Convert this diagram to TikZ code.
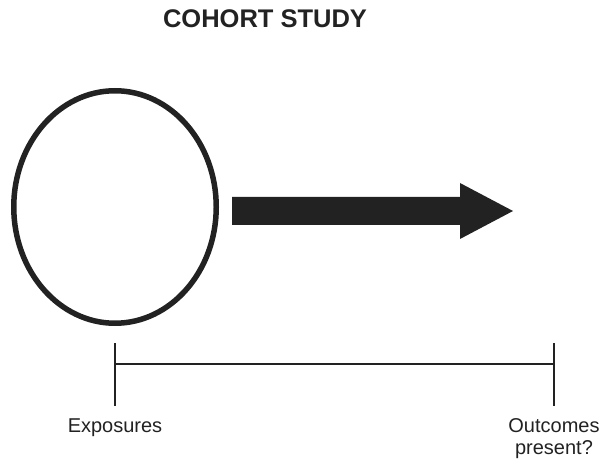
\documentclass[tikz,border=0pt]{standalone}
\usepackage{fontspec}
\setmainfont{Liberation Sans}
\usetikzlibrary{shapes.geometric}
\definecolor{ink}{RGB}{34,34,34}
\begin{document}
\begin{tikzpicture}[x=1pt,y=-1pt,
  every node/.style={inner sep=0pt,outer sep=0pt,text=ink},
  titletext/.style={font=\fontsize{25.5}{30}\selectfont\bfseries},
  ringshape/.style={ellipse,draw=ink,line width=5.5pt,minimum width=202.5pt,minimum height=232.5pt},
  blockarrow/.style={fill=ink},
  axisline/.style={draw=ink,line width=1.5pt},
  ticklabel/.style={font=\fontsize{20}{22.5}\selectfont,align=center,anchor=north}]
  \useasboundingbox (0,0) rectangle (607,462);

  % title
  \node[titletext,anchor=base] (title) at (265,27.5) {COHORT STUDY};

  % study population
  \node[ringshape] (cohort) at (115,207) {};

  % direction of follow-up
  \fill[blockarrow] (232,197) -- (460,197) -- (460,183) -- (513,211)
    -- (460,239) -- (460,225) -- (232,225) -- cycle;

  % time axis
  \coordinate (tstart) at (115,364);
  \coordinate (tend) at (554,364);
  \draw[axisline] (tstart) -- (tend);
  \draw[axisline] (115,343) -- (115,406);
  \draw[axisline] (554,343) -- (554,406);

  \node[ticklabel] (expo) at (115,418.5) {Exposures};
  \node[ticklabel] (outc) at (554,418.5) {Outcomes\\present?};
\end{tikzpicture}
\end{document}
